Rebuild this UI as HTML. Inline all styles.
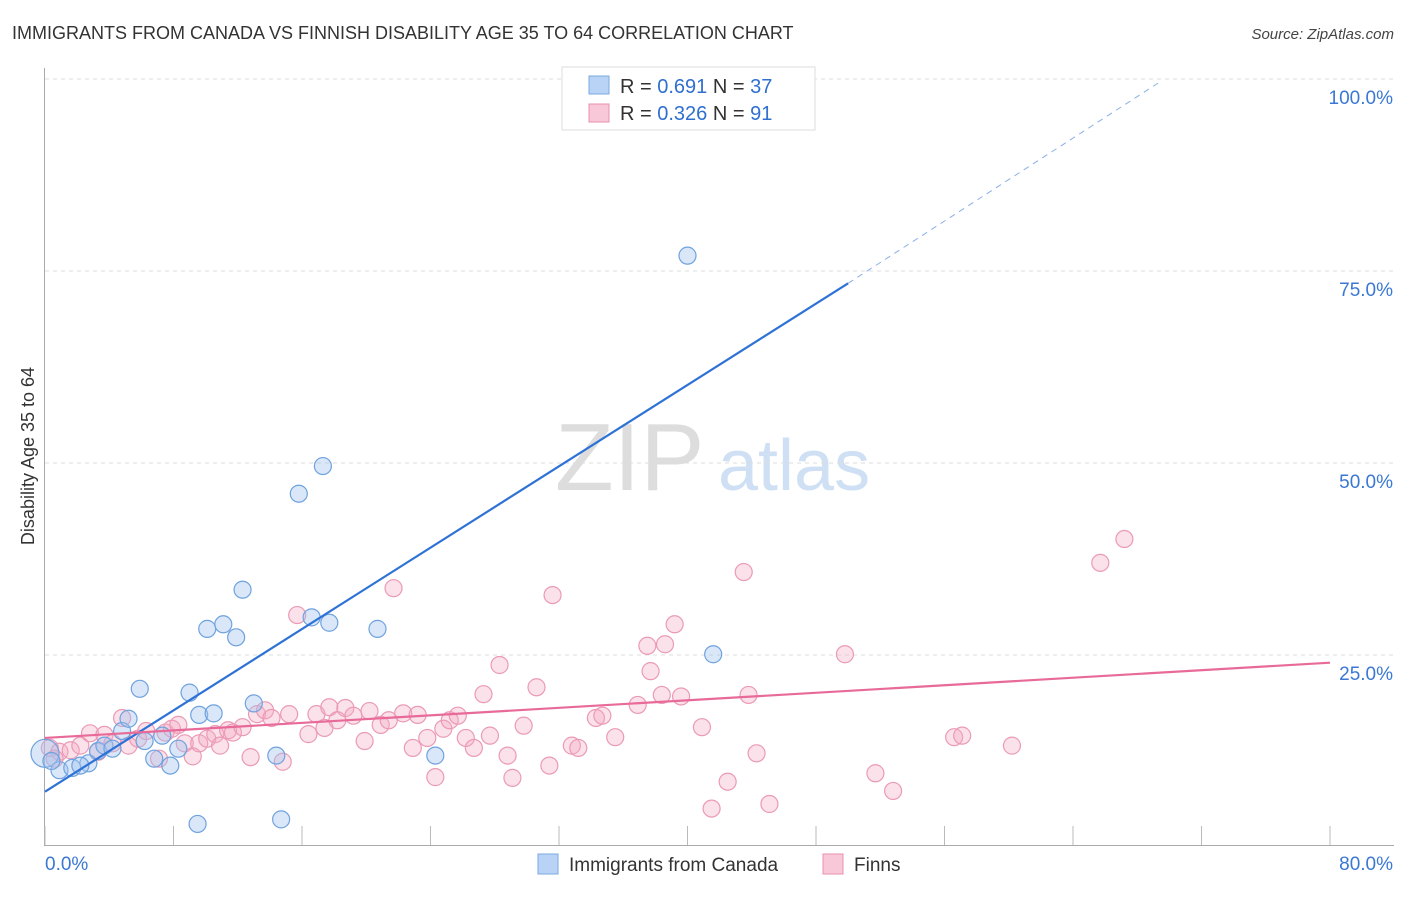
<!DOCTYPE html>
<html><head><meta charset="utf-8"><style>
body{margin:0;background:#fff;font-family:"Liberation Sans",sans-serif}
svg text{font-family:"Liberation Sans",sans-serif}
</style></head><body>
<svg id="c" width="1406" height="892" xmlns="http://www.w3.org/2000/svg">
<text x="12" y="39" font-size="18" fill="#333">IMMIGRANTS FROM CANADA VS FINNISH DISABILITY AGE 35 TO 64 CORRELATION CHART</text>
<text x="1394" y="39" font-size="15" fill="#444" text-anchor="end" font-style="italic">Source: ZipAtlas.com</text>
<text x="555" y="490" font-size="96" fill="#ddd" font-family="Liberation Serif">ZIP</text>
<text x="718" y="490" font-size="72" fill="#cfe0f4">atlas</text>
<text transform="translate(34,456) rotate(-90)" font-size="18" fill="#333" text-anchor="middle">Disability Age 35 to 64</text>
<g id="grid"></g><g id="pts"></g><g id="lines"></g>
<g>
<rect x="562" y="67" width="253" height="63" fill="#fff" stroke="#ddd"/>
<rect x="589" y="76" width="20" height="18" fill="#b8d3f5" stroke="#7aaae0"/>
<rect x="589" y="104" width="20" height="18" fill="#f9c8d8" stroke="#e890b0"/>
<text x="620" y="93" font-size="20" fill="#333">R = <tspan fill="#2f6fd0">0.691</tspan>   N = <tspan fill="#2f6fd0">37</tspan></text>
<text x="620" y="120" font-size="20" fill="#333">R = <tspan fill="#2f6fd0">0.326</tspan>   N = <tspan fill="#2f6fd0">91</tspan></text>
</g>
<g>
<rect x="538" y="854" width="20" height="20" fill="#b8d3f5" stroke="#7aaae0"/>
<text x="569" y="871" font-size="19" fill="#333">Immigrants from Canada</text>
<rect x="823" y="854" width="20" height="20" fill="#f9c8d8" stroke="#e890b0"/>
<text x="854" y="871" font-size="19" fill="#333">Finns</text>
</g>
</svg>
<script>
const yTicks=[25,50,75,100];
const yTickLabels=["25.0%","50.0%","75.0%","100.0%"];
const xTicks=[0,8,16,24,32,40,48,56,64,72,80];
const blueX=[0.0,0.9,1.7,2.7,2.2,3.3,3.7,4.2,4.8,5.2,5.9,6.2,6.8,7.3,7.8,8.3,9.0,9.5,9.6,10.1,10.5,11.1,11.9,12.3,13.0,14.4,14.7,15.8,16.6,17.3,17.7,20.7,24.3,33.3,40.0,41.6,0.4];
const blueY=[12.2,10.0,10.3,10.9,10.6,12.5,13.2,12.8,15.1,16.7,20.6,13.8,11.5,14.5,10.6,12.8,20.1,3.0,17.2,28.4,17.4,29.0,27.3,33.5,18.7,11.9,3.6,46.0,29.9,49.6,29.2,28.4,11.9,100.0,77.0,25.1,11.2];
const pinkX=[0.3,0.9,1.6,2.2,2.8,3.3,3.7,4.2,4.8,5.2,5.8,6.3,7.1,7.5,7.9,8.3,8.7,9.2,9.6,10.1,10.6,10.9,11.4,11.7,12.3,12.8,13.2,13.7,14.1,14.8,15.2,15.7,16.4,16.9,17.4,17.7,18.2,18.7,19.2,19.9,20.2,20.9,21.4,21.7,22.3,22.9,23.2,23.8,24.3,24.8,25.2,25.7,26.2,26.7,27.3,27.7,28.3,28.8,29.1,29.8,30.6,31.4,31.6,32.8,33.2,34.3,34.7,35.5,36.9,37.5,37.7,38.4,38.6,39.2,39.6,40.9,41.5,42.5,43.5,43.8,44.3,45.1,49.8,51.7,52.8,56.6,57.1,60.2,65.7,67.2,0.6];
const pinkY=[12.9,12.4,12.6,13.2,14.8,12.4,14.6,13.5,16.8,13.2,14.1,15.1,11.5,14.9,15.4,15.9,13.5,11.8,13.5,14.1,14.7,13.2,15.2,14.9,15.6,11.7,17.3,17.8,16.8,11.1,17.3,30.2,14.7,17.3,15.5,18.2,16.5,18.1,17.1,13.8,17.7,15.9,16.5,33.7,17.4,12.9,17.2,14.2,9.1,15.4,16.5,17.1,14.2,12.9,19.9,14.5,23.7,11.9,9.0,15.8,20.8,10.6,32.8,13.2,12.9,16.8,17.1,14.3,18.5,26.2,22.9,19.8,26.4,29.0,19.6,15.6,5.0,8.5,35.8,19.8,12.2,5.6,25.1,9.6,7.3,14.3,14.5,13.2,37.0,40.1,11.5];
const blueFit=[7.2,73.4,99.6];const blueFitX=[0,50,69.4];
const pinkFit=[14.2,24.0];const pinkFitX=[0,80];
const NS="http://www.w3.org/2000/svg";
const sx=v=>45+v/80*1285, sy=v=>847-v*7.68;
function mk(t,a,p){const e=document.createElementNS(NS,t);for(const k in a)e.setAttribute(k,a[k]);p.appendChild(e);return e;}
const g=document.getElementById('grid');
yTicks.forEach((t,i)=>{
 const l=mk('line',{x1:45,x2:1394,y1:sy(t),y2:sy(t),stroke:'#ddd','stroke-dasharray':'4,4'},g);
 
 
 const tx=mk('text',{x:1393,y:sy(t)+25,'font-size':19,fill:'#3a78d4','text-anchor':'end'},g);
 tx.textContent=yTickLabels[i];
 
 
});
const ax=mk('path',{d:'M44.5,68 V845.5 H1394',stroke:'#aaa',fill:'none'},g);


xTicks.forEach(t=>{
 const l=mk('line',{x1:sx(t),x2:sx(t),y1:826,y2:845,stroke:'#bbb'},g);
 
 
});
[[0,"0.0%",'start',45],[80,"80.0%",'end',1393]].forEach(a=>{
 const tx=mk('text',{x:a[3],y:870,'font-size':19,fill:'#3a78d4','text-anchor':a[2]},g);
 tx.textContent=a[1];
 
 
});
const p=document.getElementById('pts');
pinkX.forEach((x,i)=>{
 const c=mk('circle',{cx:sx(x),cy:sy(pinkY[i]),r:8.5,fill:'rgba(244,170,195,0.35)',stroke:'#eb9ab6','stroke-width':1.2},p);
 
 
});
blueX.forEach((x,i)=>{
 const c=mk('circle',{cx:sx(x),cy:sy(blueY[i]),r:i==0?14:8.5,fill:'rgba(160,196,240,0.4)',stroke:'#6fa2de','stroke-width':1.2},p);
 
 
});
const L=document.getElementById('lines');
let b=mk('line',{x1:sx(blueFitX[0]),y1:sy(blueFit[0]),x2:sx(blueFitX[1]),y2:sy(blueFit[1]),stroke:'#2f72d6','stroke-width':2.2},L);


b=mk('line',{x1:sx(blueFitX[1]),y1:sy(blueFit[1]),x2:sx(blueFitX[2]),y2:sy(blueFit[2]),stroke:'#8ab0e6','stroke-width':1,'stroke-dasharray':'6,5'},L);


b=mk('line',{x1:sx(pinkFitX[0]),y1:sy(pinkFit[0]),x2:sx(pinkFitX[1]),y2:sy(pinkFit[1]),stroke:'#e86a98','stroke-width':2.2},L);


</script>
</body></html>
